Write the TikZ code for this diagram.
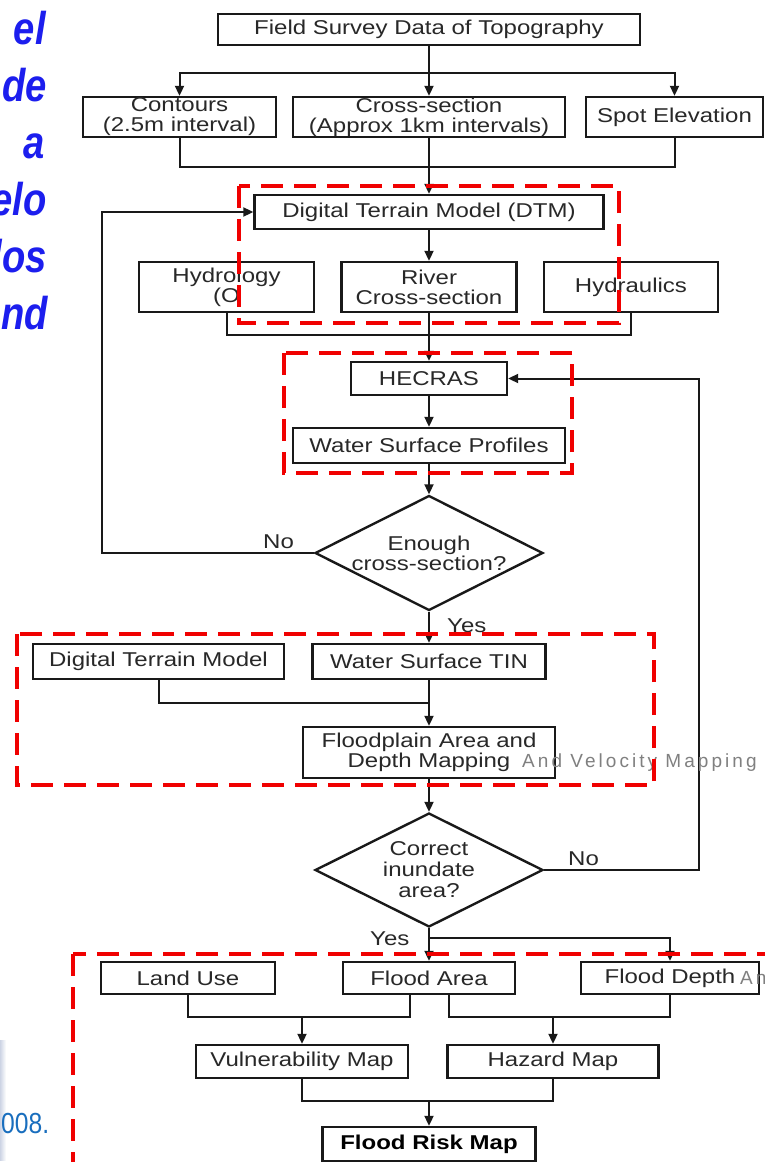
\documentclass[tikz,border=0pt]{standalone}
\usepackage{fontspec}
\usetikzlibrary{arrows.meta,shapes.geometric,calc}
\newfontfamily\dfont{Liberation Sans}[FakeStretch=1.2]
\newfontfamily\bluefont{Liberation Sans}[FakeStretch=0.83]
\newfontfamily\grayfont{Liberation Sans}[LetterSpace=16]
\newfontfamily\yrfont{Liberation Sans}[FakeStretch=0.85]
\definecolor{txt}{RGB}{40,40,40}
\definecolor{dred}{RGB}{240,0,0}
\definecolor{blu}{RGB}{28,30,238}
\definecolor{yrblue}{RGB}{25,110,190}
\definecolor{shd}{RGB}{205,212,228}
\begin{document}
\begin{tikzpicture}[x=1pt,y=-1pt,
 flowbox/.style={draw=black!90, line width=2.4pt, fill=white, inner sep=0pt, text=txt, align=center, font=\dfont\fontsize{20}{20}\selectfont},
 dia/.style={flowbox, shape=diamond, aspect=2},
 conn/.style={line width=2pt, draw=black!90},
 arr/.style={conn, -{Triangle[length=10pt,width=9pt]}},
 lbl/.style={inner sep=0pt, text=txt, font=\dfont\fontsize{20}{20}\selectfont, anchor=base west},
 redbox/.style={draw=dred, line width=3.5pt, dash pattern=on 22pt off 11pt},
 bluetxt/.style={inner sep=0pt, anchor=base east, text=blu, font=\bluefont\bfseries\itshape\fontsize{46}{46}\selectfont},
 graytxt/.style={inner sep=0pt, anchor=base west, text=black!50, font=\grayfont\fontsize{19}{19}\selectfont}]
\useasboundingbox (0,0) rectangle (765,1162);
\clip (0,0) rectangle (765,1162);
\fill[white] (0,0) rectangle (765,1162);

% left blue fragments
\node[bluetxt] (b1) at (46,44) {el};
\node[bluetxt] (b2) at (47,101) {de};
\node[bluetxt] (b3) at (45,158) {a};
\node[bluetxt] (b4) at (47,215) {elo};
\node[bluetxt] (b5) at (47,272) {los};
\node[bluetxt] (b6) at (48,329) {nd};
\shade[left color=shd, right color=white] (0,1040) rectangle (6,1160);
\node[inner sep=0pt, anchor=base west, text=yrblue, font=\yrfont\fontsize{29}{29}\selectfont] (yr) at (1,1133) {008.};

% boxes
\node[flowbox, minimum width=422pt, minimum height=31pt] (fs) at (429,29.5) {Field Survey Data of Topography};
\node[flowbox, minimum width=193pt, minimum height=40pt] (con) at (179.5,117) {Contours\\(2.5m interval)};
\node[flowbox, minimum width=272pt, minimum height=40pt] (cs) at (429,117) {Cross-section\\(Approx 1km intervals)};
\node[flowbox, minimum width=177pt, minimum height=40pt] (spot) at (674.5,117) {Spot Elevation};
\node[flowbox, minimum width=349pt, minimum height=34pt] (dtm) at (429,212) {Digital Terrain Model (DTM)};
\node[flowbox, minimum width=175pt, minimum height=50pt] (hyd) at (226.5,287) {Hydrology\\(O};
\node[flowbox, minimum width=175pt, minimum height=50pt] (riv) at (429,287) {River\\Cross-section};
\node[flowbox, minimum width=174pt, minimum height=50pt] (hydr) at (631,287) {Hydraulics};
\node[flowbox, minimum width=156pt, minimum height=33pt] (hec) at (429,378.5) {HECRAS};
\node[flowbox, minimum width=272pt, minimum height=35pt] (wsp) at (429,445.5) {Water Surface Profiles};
\node[dia, minimum width=228pt, minimum height=115pt] (en) at (429,553) {Enough\\cross-section?};
\node[flowbox, minimum width=251pt, minimum height=35pt] (dtm2) at (158.5,661.5) {Digital Terrain Model};
\node[flowbox, minimum width=233pt, minimum height=35pt] (tin) at (429,661.5) {Water Surface TIN};
\node[flowbox, minimum width=252pt, minimum height=51pt] (fp) at (429,752.5) {Floodplain Area and\\Depth Mapping};
\node[dia, minimum width=228pt, minimum height=114pt, font=\dfont\fontsize{20}{21}\selectfont] (co) at (429,870) {Correct\\inundate\\area?};
\node[flowbox, minimum width=174pt, minimum height=32pt] (lu) at (188,978) {Land Use};
\node[flowbox, minimum width=172pt, minimum height=32pt] (fa) at (429,978) {Flood Area};
\node[flowbox, minimum width=178pt, minimum height=32pt] (fd) at (670,978) {Flood Depth};
\node[flowbox, minimum width=212pt, minimum height=33pt] (vul) at (302,1061.5) {Vulnerability Map};
\node[flowbox, minimum width=211pt, minimum height=33pt] (haz) at (553,1061.5) {Hazard Map};
\node[flowbox, minimum width=213pt, minimum height=34pt, font=\dfont\bfseries\fontsize{20}{20}\selectfont, text=black] (risk) at (429,1144) {Flood Risk Map};

% coordinates
\coordinate (t1) at (429,73);
\coordinate (m1) at (429,167);
\coordinate (m2) at (429,335);
\coordinate (lft) at (102,553);
\coordinate (m3) at (429,703);
\coordinate (rgt) at (699,870);
\coordinate (m4) at (429,938);
\coordinate (m5) at (302,1017);
\coordinate (m6) at (553,1017);
\coordinate (m7) at (429,1101);

% connectors
\draw[conn] (fs.south) -- (t1);
\draw[arr] (t1) -| (con.north);
\draw[arr] (t1) -| (spot.north);
\draw[arr] (t1) -- (cs.north);
\draw[conn] (con.south) |- (m1) -| (spot.south);
\draw[arr] (cs.south) -- (dtm.north);
\draw[arr] (dtm.south) -- (riv.north);
\draw[conn] (hyd.south) |- (m2) -| (hydr.south);
\draw[arr] (riv.south) -- (hec.north);
\draw[arr] (hec.south) -- (wsp.north);
\draw[arr] (wsp.south) -- (en.north);
\draw[arr] (en.west) -- (lft) |- (dtm.west);
\draw[arr] (en.south) -- (tin.north);
\draw[conn] (dtm2.south) |- (m3);
\draw[arr] (tin.south) -- (fp.north);
\draw[arr] (fp.south) -- (co.north);
\draw[arr] (co.east) -- (rgt) |- (hec.east);
\draw[arr] (co.south) -- (fa.north);
\draw[arr] (m4) -| (fd.north);
\draw[conn] (lu.south) |- (m5) -| ($(fa.south)+(-19,0)$);
\draw[arr] (m5) -- (vul.north);
\draw[conn] ($(fa.south)+(20,0)$) |- (m6) -| (fd.south);
\draw[arr] (m6) -- (haz.north);
\draw[conn] (vul.south) |- (m7) -| (haz.south);
\draw[arr] (m7) -- (risk.north);

% labels
\node[lbl] (no1) at (263,548) {No};
\node[lbl] (yes1) at (447,632) {Yes};
\node[lbl] (no2) at (568,865) {No};
\node[lbl] (yes2) at (370,945) {Yes};

% gray overflow text
\node[graytxt] (g1) at (522,767) {And Velocity Mapping};
\node[graytxt] (g2) at (740,984) {An};

% red dashed groups
\draw[redbox] (239,186) rectangle (619,323);
\draw[redbox] (284,353) rectangle (572,473);
\draw[redbox] (17,634) rectangle (654,785);
\draw[redbox] (73,954) rectangle (820,1220);
\end{tikzpicture}
\end{document}
